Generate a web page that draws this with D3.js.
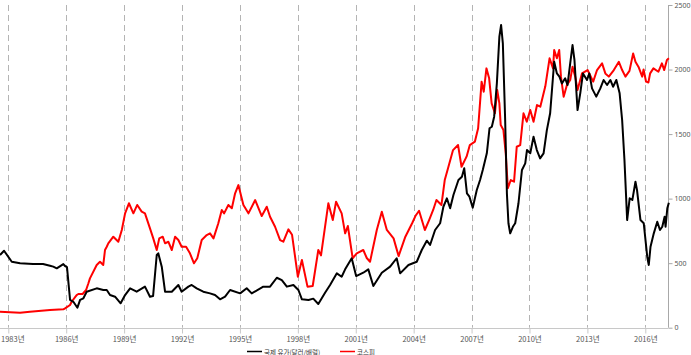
<!DOCTYPE html>
<html><head><meta charset="utf-8">
<script src="https://cdn.jsdelivr.net/npm/d3@7/dist/d3.min.js"></script>
<style>
html,body{margin:0;padding:0;background:#fff;overflow:hidden;}
svg{display:block;font-family:"Noto Sans CJK KR","Noto Sans",sans-serif;}
</style></head><body>
<svg id="c" width="691" height="355"></svg>
<script>
// Tick labels
const yearTicks = [1983,1986,1989,1992,1995,1998,2001,2004,2007,2010,2013,2016];
const valueTicks = [0,500,1000,1500,2000,2500];
const seriesNames = ["국제 유가(달러/배럴)", "코스피"];

// Black series: 국제 유가 (decimal year, value)
const oilDates = [1982.57,1982.78,1983.18,1983.61,1984.28,1984.80,1985.16,1985.33,1985.51,1985.85,1985.94,1986.04,1986.20,1986.37,1986.58,1986.72,1986.89,1987.06,1987.58,1987.92,1988.10,1988.27,1988.53,1988.82,1989.05,1989.31,1989.65,1990.08,1990.34,1990.50,1990.69,1990.77,1990.95,1991.12,1991.47,1991.81,1991.98,1992.33,1992.50,1992.76,1993.10,1993.45,1993.71,1993.97,1994.23,1994.49,1995.01,1995.35,1995.61,1996.21,1996.56,1996.91,1997.17,1997.43,1997.77,1998.03,1998.21,1998.55,1998.80,1999.06,1999.41,1999.67,2000.02,2000.27,2000.45,2000.79,2001.02,2001.39,2001.65,2001.91,2002.35,2002.78,2003.12,2003.30,2003.73,2004.16,2004.42,2004.68,2004.85,2005.11,2005.37,2005.54,2005.72,2005.89,2006.06,2006.32,2006.50,2006.62,2006.76,2006.89,2007.06,2007.27,2007.44,2007.58,2007.79,2007.93,2008.05,2008.17,2008.31,2008.44,2008.53,2008.62,2008.74,2008.83,2008.91,2009.00,2009.14,2009.26,2009.43,2009.61,2009.78,2009.87,2010.04,2010.21,2010.38,2010.55,2010.73,2010.90,2011.07,2011.28,2011.42,2011.55,2011.68,2011.85,2011.97,2012.11,2012.23,2012.33,2012.49,2012.63,2012.77,2012.98,2013.10,2013.24,2013.46,2013.67,2013.84,2014.02,2014.19,2014.33,2014.50,2014.67,2014.80,2014.92,2015.06,2015.19,2015.33,2015.49,2015.57,2015.75,2015.92,2016.10,2016.18,2016.27,2016.44,2016.62,2016.76,2016.88,2017.00,2017.05,2017.14,2017.22];
const oilValues = [563,596,511,499,493,493,480,473,460,493,478,470,215,201,155,215,228,279,305,292,292,253,240,189,253,305,279,318,240,245,563,576,473,279,279,331,279,318,331,305,279,266,253,220,240,292,266,305,266,318,318,387,369,318,331,292,220,215,225,184,271,331,421,395,452,538,400,426,452,323,426,473,538,421,486,511,602,674,641,757,809,937,1002,925,1028,1144,1170,1235,1041,1015,930,1067,1144,1222,1351,1545,1557,1635,1893,2254,2345,2203,1609,1041,809,731,782,809,964,1222,1273,1376,1351,1480,1376,1312,1351,1531,1661,2060,1970,1945,1893,1932,1880,2048,2190,2074,1686,1816,1970,1919,1970,1854,1790,1854,1919,1880,1919,1867,1919,1816,1609,1299,834,1002,990,1131,1067,834,809,550,486,627,731,821,757,782,860,782,925,968];

// Red series: 코스피 (decimal year, value)
const kospiDates = [1982.57,1983.61,1984.12,1985.16,1985.85,1985.94,1986.20,1986.28,1986.54,1986.63,1986.85,1987.03,1987.15,1987.23,1987.58,1987.75,1987.92,1988.01,1988.10,1988.18,1988.44,1988.70,1988.88,1989.05,1989.25,1989.48,1989.68,1989.91,1990.08,1990.34,1990.51,1990.69,1990.82,1991.00,1991.12,1991.29,1991.47,1991.64,1991.81,1991.98,1992.21,1992.41,1992.62,1992.79,1993.02,1993.28,1993.45,1993.63,1993.88,1994.06,1994.18,1994.40,1994.58,1994.75,1994.92,1995.18,1995.44,1995.79,1996.13,1996.39,1996.56,1996.82,1997.08,1997.25,1997.51,1997.70,1998.00,1998.21,1998.50,1998.77,1999.06,1999.20,1999.58,1999.81,1999.98,2000.27,2000.45,2000.59,2000.84,2001.05,2001.39,2001.57,2001.74,2002.09,2002.35,2002.61,2002.96,2003.22,2003.57,2003.92,2004.09,2004.28,2004.58,2004.80,2005.01,2005.18,2005.44,2005.61,2005.78,2006.04,2006.30,2006.48,2006.74,2006.91,2007.17,2007.34,2007.52,2007.63,2007.77,2007.91,2008.04,2008.21,2008.33,2008.44,2008.51,2008.65,2008.77,2008.88,2009.03,2009.20,2009.34,2009.52,2009.69,2009.86,2010.04,2010.21,2010.39,2010.56,2010.82,2011.04,2011.22,2011.28,2011.42,2011.54,2011.63,2011.77,2011.94,2012.11,2012.23,2012.37,2012.49,2012.72,2013.01,2013.30,2013.50,2013.76,2013.93,2014.11,2014.37,2014.63,2014.80,2014.97,2015.18,2015.37,2015.49,2015.65,2015.84,2015.91,2016.04,2016.16,2016.25,2016.42,2016.68,2016.86,2016.98,2017.12,2017.22];
const kospiValues = [124,116,124,137,142,150,176,201,253,261,261,292,344,382,486,511,486,602,627,654,705,666,757,886,964,886,951,899,886,770,692,602,692,705,654,666,602,705,679,627,627,576,499,538,679,718,731,692,809,912,886,951,925,1041,1105,951,886,989,865,937,860,782,679,666,762,720,395,524,318,323,602,560,964,834,976,886,731,788,538,576,602,540,511,757,899,757,692,555,705,809,865,906,757,834,912,989,951,1144,1235,1376,1415,1247,1325,1415,1441,1545,1906,1828,2009,1932,1738,1661,1841,1738,1570,1531,1351,1080,1144,1131,1402,1415,1661,1596,1686,1596,1725,1712,1870,2087,2009,2151,2087,2151,1945,1790,1880,1919,2022,1945,1841,1970,1996,1906,1996,2048,1970,1945,1996,2060,1996,1945,1990,2125,2060,2020,1945,2000,1906,1900,1970,2009,1983,2048,1996,2074,2087];

const svg = d3.select("#c");
const x = d3.scaleLinear().domain([1983, 2016]).range([8.3, 645.3]);
const y = d3.scaleLinear().domain([0, 2500]).range([327.7, 5]);
const axisX = 668.3;

// vertical dashed gridlines
svg.append("g").selectAll("line").data(yearTicks).join("line")
  .attr("x1", d => Math.round(x(d)) + 0.5).attr("x2", d => Math.round(x(d)) + 0.5)
  .attr("y1", y(2500)).attr("y2", y(0))
  .attr("stroke", "#b4b4b4").attr("stroke-width", 1).attr("stroke-dasharray", "6,4");

// bottom axis
const bx = d3.axisBottom(x).tickValues(yearTicks).tickFormat(d => d + "년").tickSize(5).tickPadding(3);
const gb = svg.append("g").attr("transform", `translate(0,${Math.round(y(0)) + 0.5})`).call(bx);
gb.select(".domain").remove();
gb.append("line").attr("x1", 0).attr("x2", axisX).attr("stroke", "#c8c8c8");
gb.selectAll(".tick line").attr("stroke", "#c8c8c8");
gb.selectAll(".tick text").attr("fill", "#555").attr("font-size", 7.5)
  .attr("font-family", '"Noto Sans CJK KR",sans-serif');
// keep the first label inside the picture
gb.selectAll(".tick text").filter(d => d === yearTicks[0])
  .attr("text-anchor", "start").attr("x", -x(yearTicks[0]) + 0.5);

// right axis
const ry = d3.axisRight(y).tickValues(valueTicks).tickFormat(d3.format("d")).tickSize(4).tickPadding(2);
const gr = svg.append("g").attr("transform", `translate(${Math.round(axisX) + 0.5},0)`).call(ry);
gr.select(".domain").attr("stroke", "#a8a8a8").attr("d", `M0,${y(2500)}V${y(0)}`);
gr.selectAll(".tick line").attr("stroke", "#a8a8a8");
gr.selectAll(".tick text").attr("fill", "#555").attr("font-size", 7)
  .attr("font-family", '"Noto Sans",sans-serif');

// lines
const line = d3.line().x(d => x(d[0])).y(d => y(d[1])).curve(d3.curveLinear);
const kospiData = kospiDates.map((d, i) => [d, kospiValues[i]]);
const oilData = oilDates.map((d, i) => [d, oilValues[i]]);
svg.append("path").datum(kospiData).attr("d", line)
  .attr("fill", "none").attr("stroke", "#ff0000").attr("stroke-width", 2).attr("stroke-linejoin", "round");
svg.append("path").datum(oilData).attr("d", line)
  .attr("fill", "none").attr("stroke", "#000").attr("stroke-width", 2).attr("stroke-linejoin", "round");

// legend
const lg = svg.append("g");
lg.append("line").attr("x1", 247).attr("x2", 262).attr("y1", 351.5).attr("y2", 351.5)
  .attr("stroke", "#000").attr("stroke-width", 1.5);
lg.append("text").attr("x", 264).attr("y", 354.5).attr("font-size", 6.5).attr("fill", "#333").text(seriesNames[0]);
lg.append("line").attr("x1", 340).attr("x2", 355).attr("y1", 351.5).attr("y2", 351.5)
  .attr("stroke", "#ff0000").attr("stroke-width", 1.5);
lg.append("text").attr("x", 357).attr("y", 354.5).attr("font-size", 6.5).attr("fill", "#333").text(seriesNames[1]);
</script>
</body></html>
